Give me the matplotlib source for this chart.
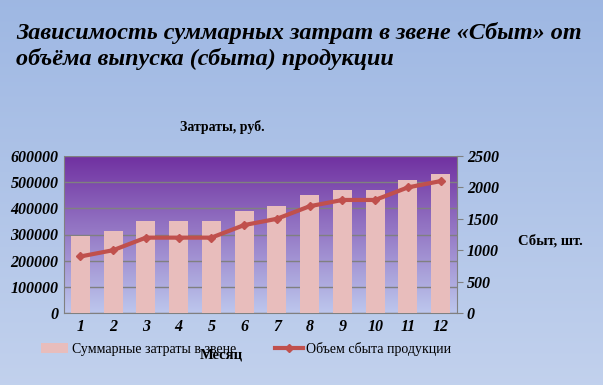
import numpy as np
import matplotlib.pyplot as plt

months = [1, 2, 3, 4, 5, 6, 7, 8, 9, 10, 11, 12]
costs = [295000, 315000, 350000, 350000, 350000, 390000, 410000, 450000, 470000, 470000, 510000, 530000]
sales = [900, 1000, 1200, 1200, 1200, 1400, 1500, 1700, 1800, 1800, 2000, 2100]

plt.rcParams['font.family'] = ['Liberation Serif', 'DejaVu Serif']

fig = plt.figure(figsize=(6.03, 3.85), dpi=100)

# background gradient for whole figure
bg = fig.add_axes([0, 0, 1, 1], zorder=-10)
grad = np.linspace(0, 1, 256).reshape(-1, 1)
c_top = np.array([0.62, 0.72, 0.89])
c_bot = np.array([0.76, 0.82, 0.93])
img = c_top + (c_bot - c_top) * grad[:, :, None]
bg.imshow(img, aspect='auto', extent=[0, 1, 0, 1])
bg.axis('off')

ax = fig.add_axes([64/603, 1-313/385, 393/603, 157/385])
ax.patch.set_visible(False)
p_top = np.array([0.44, 0.19, 0.63])
p_bot = np.array([0.74, 0.78, 0.93])
img2 = p_top + (p_bot - p_top) * grad[:, :, None]
ax.imshow(img2, aspect='auto', extent=[0, 1, 0, 1], transform=ax.transAxes, zorder=0)

ax.bar(months, costs, width=0.58, color='#E8BDBC', zorder=3, label='Суммарные затраты в звене')
ax.set_xlim(0.5, 12.5)
ax.set_ylim(0, 600000)
ax.set_yticks(range(0, 600001, 100000))
ax.yaxis.grid(True, color='#808080', linewidth=1, zorder=1)
ax.set_axisbelow(True)
ax.set_xticks(months)

ax2 = ax.twinx()
ax2.patch.set_visible(False)
ax2.plot(months, sales, color='#C0504D', linewidth=3, marker='D', markersize=4.5,
         label='Объем сбыта продукции', zorder=5)
ax2.set_ylim(0, 2500)
ax2.set_yticks(range(0, 2501, 500))

for a in (ax, ax2):
    for s in a.spines.values():
        s.set_visible(False)
    for lab in a.get_yticklabels() + a.get_xticklabels():
        lab.set_fontweight('bold')
        lab.set_fontstyle('italic')
        lab.set_fontsize(11.5)
ax.spines['bottom'].set_visible(True)
ax.spines['bottom'].set_color('#808080')
ax.spines['left'].set_visible(True)
ax.spines['left'].set_color('#808080')
ax2.spines['right'].set_visible(True)
ax2.spines['right'].set_color('#808080')
ax.tick_params(axis='y', length=0, pad=4)
ax.tick_params(axis='x', length=0, pad=4)
ax2.tick_params(axis='y', length=4, color='#808080', pad=3)

fig.text(16/603, 1-22/385, 'Зависимость суммарных затрат в звене «Сбыт» от\nобъёма выпуска (сбыта) продукции',
         fontsize=17.4, fontweight='bold', fontstyle='italic', ha='left', va='top', linespacing=1.25)
fig.text(222/603, 1-127/385, 'Затраты, руб.', fontsize=10, fontweight='bold', ha='center', va='center')
fig.text(550/603, 1-241/385, 'Сбыт, шт.', fontsize=10.5, fontweight='bold', ha='center', va='center')
fig.text(221/603, 1-355/385, 'Месяц', fontsize=10.5, fontweight='bold', ha='center', va='center')

h1, l1 = ax.get_legend_handles_labels()
h2, l2 = ax2.get_legend_handles_labels()
fig.legend(h1 + h2, l1 + l2, loc='center', bbox_to_anchor=(246/603, 1-349/385), ncol=2,
           frameon=False, fontsize=10, handlelength=2.0, columnspacing=2.8, handletextpad=0.25)

fig.savefig('out.png', dpi=100)
